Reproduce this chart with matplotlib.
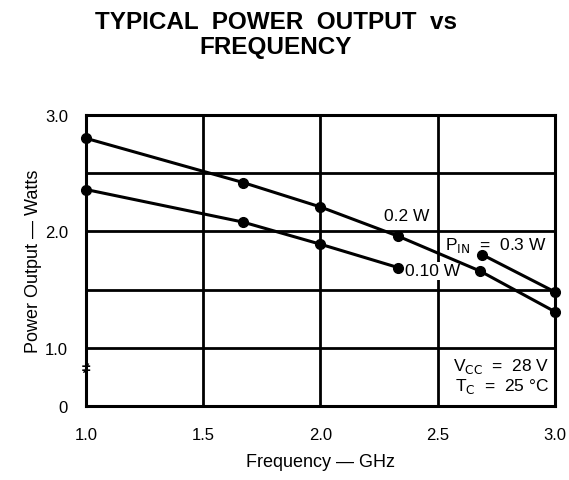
import matplotlib
matplotlib.use('Agg')
import matplotlib.pyplot as plt

plt.rcParams['font.family'] = ['Liberation Sans', 'DejaVu Sans']

# --- veriler ---
freq_02 = [1.0, 1.67, 2.0, 2.33, 2.68, 3.0]
pout_02 = [2.80, 2.42, 2.21, 1.96, 1.66, 1.31]

freq_03 = [2.69, 3.0]
pout_03 = [1.80, 1.48]

freq_01 = [1.0, 1.67, 2.0, 2.33]
pout_01 = [2.36, 2.08, 1.89, 1.69]

x_ticks = [1.0, 1.5, 2.0, 2.5, 3.0]
x_labels = ['1.0', '1.5', '2.0', '2.5', '3.0']
# alt kisim kirik eksen: 0 etiketi 0.5 konumunda
y_ticks = [0.5, 1.0, 2.0, 3.0]
y_labels = ['0', '1.0', '2.0', '3.0']
y_grid = [1.0, 1.5, 2.0, 2.5]

fig = plt.figure(figsize=(5.69, 4.81), dpi=100)
ax = fig.add_axes([0.1511, 0.1538, 0.8243, 0.605])

ax.set_xlim(1.0, 3.0)
ax.set_ylim(0.5, 3.0)

for y in y_grid:
    ax.axhline(y, color='black', lw=2.0, zorder=1)
for x in [1.5, 2.0, 2.5]:
    ax.axvline(x, color='black', lw=2.0, zorder=1)

kw = dict(color='black', lw=2.2, marker='o', ms=7, zorder=3, clip_on=False)
ax.plot(freq_02, pout_02, **kw)
ax.plot(freq_03, pout_03, **kw)
ax.plot(freq_01, pout_01, **kw)

box = dict(facecolor='white', edgecolor='none', pad=1)
fs = 12.5
ax.text(2.27, 2.14, '0.2 W', fontsize=fs, va='center', ha='left', bbox=box, zorder=2)
ax.text(2.53, 1.89, r'P$_{\mathrm{IN}}$  =  0.3 W', fontsize=fs, va='center', ha='left',
        bbox=box, zorder=2)
ax.text(2.36, 1.66, '0.10 W', fontsize=fs, va='center', ha='left', bbox=box, zorder=2)
ax.text(2.975, 0.85, r'V$_{\mathrm{CC}}$  =  28 V', fontsize=fs, va='center', ha='right',
        bbox=box, zorder=2)
ax.text(2.975, 0.675, r'T$_{\mathrm{C}}$  =  25 °C', fontsize=fs, va='center', ha='right',
        bbox=box, zorder=2)

# kirik eksen isareti
ax.text(1.0, 0.825, '≠', fontsize=11, fontweight='bold', ha='center', va='center', zorder=5)

ax.set_xticks(x_ticks)
ax.set_xticklabels(x_labels)
ax.set_yticks(y_ticks)
ax.set_yticklabels(y_labels)
ax.tick_params(length=0, labelsize=12, pad=13)
ax.tick_params(axis='x', pad=15)

for s in ax.spines.values():
    s.set_linewidth(2.2)

ax.set_xlabel('Frequency — GHz', fontsize=13, labelpad=8)
ax.set_ylabel('Power Output — Watts', fontsize=13, labelpad=2)

fig.text(0.485, 0.953, 'TYPICAL  POWER  OUTPUT  vs', fontsize=17.5, fontweight='bold',
         ha='center', va='center')
fig.text(0.485, 0.901, 'FREQUENCY', fontsize=17.5, fontweight='bold', ha='center', va='center')

fig.savefig('out.png', dpi=100)
